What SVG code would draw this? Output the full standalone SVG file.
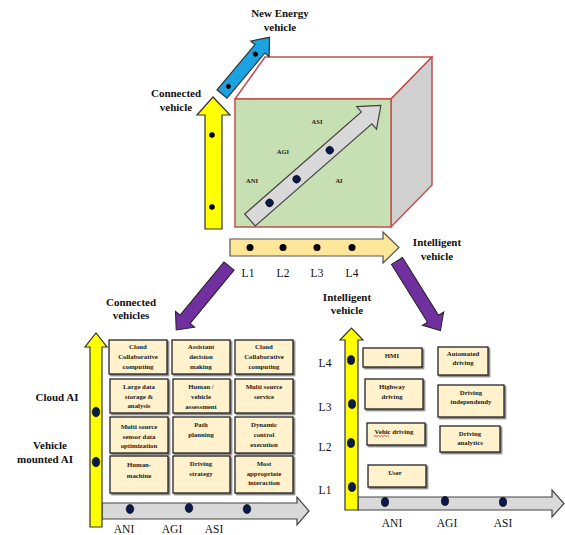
<svg xmlns="http://www.w3.org/2000/svg" width="565" height="535" viewBox="0 0 565 535">
<defs>
<filter id="sh" x="-10%" y="-10%" width="130%" height="130%"><feDropShadow dx="1.5" dy="1.5" stdDeviation="0.7" flood-color="#555" flood-opacity="0.8"/></filter>
</defs>
<style>
.lbl{font-family:"Liberation Serif",serif;font-weight:bold;font-size:11px;fill:#111;text-anchor:middle}
.ax{font-family:"Liberation Serif",serif;font-size:11.5px;fill:#111;text-anchor:middle}
.sm{font-family:"Liberation Serif",serif;font-weight:bold;font-size:6.5px;fill:#222;text-anchor:middle}
.bx{font-family:"Liberation Serif",serif;font-weight:bold;font-size:6.8px;fill:#222;text-anchor:middle}
.box{fill:#FFF2CC;stroke:#222;stroke-width:1.3;filter:url(#sh)}
.yel{fill:#FFFF00;stroke:#333;stroke-width:1.2}
.gry{fill:#D9D9D9;stroke:#444;stroke-width:1.2}
.pur{fill:#7030A0;stroke:#222;stroke-width:1}
.dot{fill:#0B1A4A;stroke:#000;stroke-width:0.6}
.bd{fill:#000}
.cube{stroke:#C0504D;stroke-width:1.5}
</style>

<g id="cube">
<polygon class="cube" points="235,99 265,57 432,57 391,99" fill="#FFFFFF"/>
<polygon class="cube" points="391,99 432,57 432,185 391,227" fill="#D0D0D0"/>
<rect class="cube" x="235" y="99" width="156" height="128" fill="#C6E0B4"/>
<text class="sm" x="317" y="124">ASI</text>
<text class="sm" x="283" y="154">AGI</text>
<text class="sm" x="252" y="183">ANI</text>
<text class="sm" x="339" y="183">AI</text>
</g>

<g id="cube-arrow" transform="translate(250,220) rotate(-41.2)">
<polygon class="gry" points="0,-8 155,-8 155,-15 174,0 155,15 155,8 0,8"/>
<circle class="dot" cx="26" cy="0" r="3.8"/>
<circle class="dot" cx="62" cy="0" r="3.8"/>
<circle class="dot" cx="106" cy="0" r="3.8"/>
</g>

<g id="new-energy">
<g transform="translate(222,94) rotate(-50)">
<polygon points="0,-6.5 59,-6.5 59,-12 74,0 59,12 59,6.5 0,6.5" fill="#1AA3E0" stroke="#333" stroke-width="1.2"/>
<circle class="bd" cx="10" cy="0" r="2.5"/>
<circle class="bd" cx="52" cy="0" r="2.5"/>
</g>
<text class="lbl" x="280" y="17">New Energy</text>
<text class="lbl" x="280" y="31">vehicle</text>
</g>

<g id="connected-vehicle">
<polygon class="yel" points="205,229 205,115 197,115 213,97 230,115 222,115 222,229"/>
<circle class="bd" cx="212" cy="135" r="2.8"/>
<circle class="bd" cx="212" cy="207" r="2.8"/>
<text class="lbl" x="176" y="97">Connected</text>
<text class="lbl" x="176" y="111">vehicle</text>
</g>

<g id="intelligent-vehicle">
<polygon points="230,239 383,239 383,232 399,247.5 383,263 383,256 230,256" fill="#FFE699" stroke="#555" stroke-width="1.2"/>
<circle class="bd" cx="250" cy="247.5" r="3.5"/>
<circle class="bd" cx="283" cy="247.5" r="3.5"/>
<circle class="bd" cx="317" cy="247.5" r="3.5"/>
<circle class="bd" cx="352" cy="247.5" r="3.5"/>
<text class="ax" x="248" y="277">L1</text>
<text class="ax" x="283" y="277">L2</text>
<text class="ax" x="317" y="277">L3</text>
<text class="ax" x="352" y="277">L4</text>
<text class="lbl" x="437" y="246">Intelligent</text>
<text class="lbl" x="437" y="260">vehicle</text>
</g>

<g id="connectors">
<g transform="translate(229,266) rotate(129.5)">
<polygon class="pur" points="0,-6.5 69,-6.5 69,-12.5 83,0 69,12.5 69,6.5 0,6.5"/>
</g>
<g transform="translate(397,261) rotate(58)">
<polygon class="pur" points="0,-6.5 68,-6.5 68,-12.5 82,0 68,12.5 68,6.5 0,6.5"/>
</g>
</g>

<g id="connected-vehicles-panel">
<text class="lbl" x="131" y="306">Connected</text>
<text class="lbl" x="131" y="319">vehicles</text>
<text class="lbl" x="57" y="401">Cloud AI</text>
<text class="lbl" x="50" y="449">Vehicle</text>
<text class="lbl" x="45" y="463">mounted AI</text>
<polygon class="gry" points="102,503 297,503 297,497 309,511 297,525 297,519 102,519"/>
<ellipse class="dot" cx="130" cy="509" rx="3.8" ry="4.5"/>
<ellipse class="dot" cx="189" cy="508" rx="3.8" ry="4.5"/>
<ellipse class="dot" cx="247" cy="509" rx="3.8" ry="4.5"/>
<polygon class="yel" points="90,527 90,347 85,347 96,333 107,347 102,347 102,527"/>
<ellipse class="dot" cx="96" cy="412" rx="3.8" ry="4.8"/>
<ellipse class="dot" cx="96" cy="462" rx="3.8" ry="4.8"/>
<text class="ax" x="124" y="533">ANI</text>
<text class="ax" x="172" y="533">AGI</text>
<text class="ax" x="214" y="533">ASI</text>
</g>

<g id="b11"><rect class="box" x="109" y="340" width="58" height="34"/><text class="bx" x="138" y="349">Cloud</text><text class="bx" x="138" y="358.5">Collaborative</text><text class="bx" x="138" y="369">computing</text></g>
<g id="b12"><rect class="box" x="172" y="340" width="58" height="34"/><text class="bx" x="201" y="349">Assistant</text><text class="bx" x="201" y="358.5">decision</text><text class="bx" x="201" y="369">making</text></g>
<g id="b13"><rect class="box" x="235" y="340" width="58" height="34"/><text class="bx" x="264" y="349">Cloud</text><text class="bx" x="264" y="358.5">Collaborative</text><text class="bx" x="264" y="369">computing</text></g>

<g id="b21"><rect class="box" x="110" y="379" width="58" height="34"/><text class="bx" x="139" y="389">Large data</text><text class="bx" x="139" y="398.5">storage &amp;</text><text class="bx" x="139" y="408">analysis</text></g>
<g id="b22"><rect class="box" x="173" y="379" width="57" height="34"/><text class="bx" x="201" y="389">Human /</text><text class="bx" x="201" y="398.5">vehicle</text><text class="bx" x="201" y="408.5">assessment</text></g>
<g id="b23"><rect class="box" x="235" y="379" width="58" height="34"/><text class="bx" x="264" y="389">Multi source</text><text class="bx" x="264" y="398.5">service</text></g>

<g id="b31"><rect class="box" x="110" y="417" width="58" height="36"/><text class="bx" x="139" y="429">Multi source</text><text class="bx" x="139" y="438.5">sensor data</text><text class="bx" x="139" y="448">optimization</text></g>
<g id="b32"><rect class="box" x="173" y="417" width="57" height="36"/><text class="bx" x="201" y="427">Path</text><text class="bx" x="201" y="437">planning</text></g>
<g id="b33"><rect class="box" x="235" y="417" width="58" height="36"/><text class="bx" x="264" y="427">Dynamic</text><text class="bx" x="264" y="436.5">control</text><text class="bx" x="264" y="446.5">execution</text></g>

<g id="b41"><rect class="box" x="110" y="456" width="58" height="37"/><text class="bx" x="139" y="467">Human-</text><text class="bx" x="139" y="478">machine</text></g>
<g id="b42"><rect class="box" x="173" y="456" width="57" height="37"/><text class="bx" x="201" y="466">Driving</text><text class="bx" x="201" y="476">strategy</text></g>
<g id="b43"><rect class="box" x="235" y="456" width="58" height="37"/><text class="bx" x="264" y="466">Most</text><text class="bx" x="264" y="475.5">appropriate</text><text class="bx" x="264" y="485">interaction</text></g>

<g id="intelligent-vehicle-panel">
<text class="lbl" x="347" y="301">Intelligent</text>
<text class="lbl" x="347" y="314">vehicle</text>
<polygon class="gry" points="358,497 552,497 552,490 564,503.5 552,517 552,510 358,510"/>
<ellipse class="dot" cx="385" cy="502" rx="3.6" ry="4.5"/>
<ellipse class="dot" cx="445" cy="501" rx="3.6" ry="4.5"/>
<ellipse class="dot" cx="503" cy="502" rx="3.6" ry="4.5"/>
<polygon class="yel" points="345,510 345,340 340,340 351.5,328 363,340 358,340 358,510"/>
<ellipse class="dot" cx="351" cy="360" rx="3.6" ry="4.5"/>
<ellipse class="dot" cx="352" cy="404" rx="3.6" ry="4.5"/>
<ellipse class="dot" cx="351" cy="443" rx="3.6" ry="4.5"/>
<ellipse class="dot" cx="352" cy="487" rx="3.6" ry="4.5"/>
<text class="ax" x="325" y="367">L4</text>
<text class="ax" x="325" y="411">L3</text>
<text class="ax" x="325" y="451">L2</text>
<text class="ax" x="325" y="494">L1</text>
<text class="ax" x="392" y="527">ANI</text>
<text class="ax" x="447" y="527">AGI</text>
<text class="ax" x="503" y="527">ASI</text>
</g>

<g id="r-hmi"><rect class="box" x="363" y="348" width="59" height="19"/><text class="bx" x="392" y="358">HMI</text></g>
<g id="r-auto"><rect class="box" x="438" y="347" width="50" height="28"/><text class="bx" x="463" y="356">Automated</text><text class="bx" x="463" y="365">driving</text></g>
<g id="r-highway"><rect class="box" x="365" y="379" width="58" height="30"/><text class="bx" x="392" y="389">Highway</text><text class="bx" x="392" y="399">driving</text></g>
<g id="r-indep"><rect class="box" x="438" y="385" width="66" height="32"/><text class="bx" x="471" y="395">Driving</text><text class="bx" x="471" y="404">independendy</text></g>
<g id="r-vehic"><rect class="box" x="367" y="423" width="58" height="22"/><text class="bx" x="394" y="434">Vehic driving</text><path d="M374,436.5 l1.5,-1 l1.5,1 l1.5,-1 l1.5,1 l1.5,-1 l1.5,1 l1.5,-1 l1.5,1 l1.5,-1 l1.5,1" fill="none" stroke="#E02020" stroke-width="0.7"/></g>
<g id="r-analytics"><rect class="box" x="440" y="426" width="60" height="26"/><text class="bx" x="470" y="436">Driving</text><text class="bx" x="470" y="445">analytics</text></g>
<g id="r-user"><rect class="box" x="368" y="465" width="58" height="22"/><text class="bx" x="395" y="475">User</text></g>
</svg>
